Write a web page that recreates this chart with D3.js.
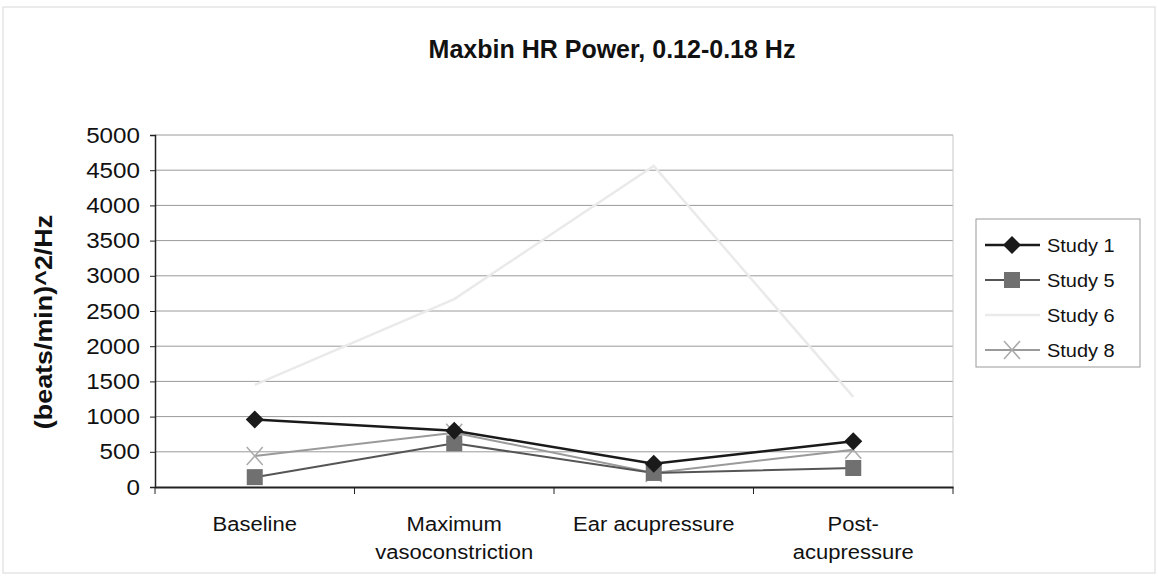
<!DOCTYPE html>
<html>
<head>
<meta charset="utf-8">
<script src="https://cdn.jsdelivr.net/npm/d3@7"></script>
<style>
body { margin: 0; background: #fff; }
svg { font-family: Arial, "Liberation Sans", sans-serif; }
</style>
</head>
<body>
<div id="chart"></div>
<script>
var categories = [["Baseline"], ["Maximum", "vasoconstriction"], ["Ear acupressure"], ["Post-", "acupressure"]];
var seriesNames = ["Study 1", "Study 5", "Study 6", "Study 8"];
var study1 = [960, 800, 330, 650];
var study5 = [140, 620, 200, 270];
var study6 = [1450, 2670, 4560, 1280];
var study8 = [440, 770, 200, 530];
var yTicks = [0, 500, 1000, 1500, 2000, 2500, 3000, 3500, 4000, 4500, 5000];

var width = 1158, height = 576;
var margin = {left: 155, right: 205, top: 135, bottom: 89};

var series = [
	{name: seriesNames[0], values: study1, line: "#1a1a1a", mark: "diamond", fill: "#1a1a1a", w: 2.5},
	{name: seriesNames[1], values: study5, line: "#555", mark: "square", fill: "#707070", w: 2},
	{name: seriesNames[2], values: study6, line: "#eaeaea", mark: "none", fill: "#eaeaea", w: 2.5},
	{name: seriesNames[3], values: study8, line: "#9a9a9a", mark: "x", fill: "#aaa", w: 2}
];

var svg = d3.select("#chart").append("svg")
	.attr("width", width)
	.attr("height", height);

svg.append("rect")
	.attr("x", 3).attr("y", 7)
	.attr("width", width - 6).attr("height", height - 10)
	.attr("fill", "none")
	.attr("stroke", "#d8d8d8");

var x = d3.scaleBand()
	.domain(d3.range(categories.length))
	.range([margin.left, width - margin.right]);

var y = d3.scaleLinear()
	.domain([0, 5000])
	.range([height - margin.bottom, margin.top]);

// widen a text element a little around its anchor
function wide(sel, k) {
	sel.each(function() {
		var w = this.getComputedTextLength();
		d3.select(this).attr("textLength", w * k).attr("lengthAdjust", "spacingAndGlyphs");
	});
}

// grid
svg.append("g").selectAll("line")
	.data(yTicks.slice(1))
	.enter().append("line")
	.attr("x1", margin.left).attr("x2", width - margin.right)
	.attr("y1", function(d) { return y(d); })
	.attr("y2", function(d) { return y(d); })
	.attr("stroke", "#9a9a9a")
	.attr("stroke-width", 1);

svg.append("line")
	.attr("x1", width - margin.right).attr("x2", width - margin.right)
	.attr("y1", margin.top).attr("y2", height - margin.bottom)
	.attr("stroke", "#c8c8c8");

var yAxis = svg.append("g")
	.attr("transform", "translate(" + margin.left + ",0)")
	.call(d3.axisLeft(y).tickValues(yTicks).tickFormat(d3.format("d")).tickSize(5).tickPadding(10));
yAxis.select(".domain").attr("stroke", "#222").attr("stroke-width", 1.5);
yAxis.selectAll(".tick line").attr("stroke", "#222");
yAxis.selectAll("text").attr("font-size", 22).attr("fill", "#111").style("font-family", "Arial, 'Liberation Sans', sans-serif");
wide(yAxis.selectAll("text"), 1.1);

var xAxis = svg.append("g")
	.attr("transform", "translate(0," + (height - margin.bottom) + ")")
	.call(d3.axisBottom(x).tickSize(0).tickFormat(""));
xAxis.select(".domain").attr("stroke", "#222").attr("stroke-width", 2);

svg.append("g").selectAll("line")
	.data(d3.range(categories.length + 1))
	.enter().append("line")
	.attr("x1", function(d) { return margin.left + d * x.step(); })
	.attr("x2", function(d) { return margin.left + d * x.step(); })
	.attr("y1", height - margin.bottom)
	.attr("y2", height - margin.bottom + 7)
	.attr("stroke", "#222");

// x labels, one text per line
var xl = svg.append("g");
categories.forEach(function(lines, i) {
	lines.forEach(function(s, k) {
		xl.append("text")
			.attr("x", x(i) + x.bandwidth() / 2)
			.attr("y", 531 + k * 28)
			.attr("text-anchor", "middle")
			.attr("font-size", 20)
			.attr("fill", "#111")
			.text(s);
	});
});
wide(xl.selectAll("text"), 1.1);

// title and y label
svg.append("text")
	.attr("x", 612).attr("y", 58)
	.attr("text-anchor", "middle")
	.attr("font-size", 25)
	.attr("font-weight", "bold")
	.attr("fill", "#111")
	.text("Maxbin HR Power, 0.12-0.18 Hz");

var ylab = svg.append("text")
	.attr("transform", "translate(52,322) rotate(-90)")
	.attr("text-anchor", "middle")
	.attr("font-size", 24)
	.attr("font-weight", "bold")
	.attr("fill", "#111")
	.text("(beats/min)^2/Hz");
wide(ylab, 1.12);

var line = d3.line()
	.x(function(d, i) { return x(i) + x.bandwidth() / 2; })
	.y(function(d) { return y(d); });

function drawMark(g, type, cx, cy, s) {
	if (type === "diamond") {
		g.append("path")
			.attr("d", "M" + cx + "," + (cy - 9) + "L" + (cx + 9) + "," + cy + "L" + cx + "," + (cy + 9) + "L" + (cx - 9) + "," + cy + "Z")
			.attr("fill", s.fill);
	} else if (type === "square") {
		g.append("rect")
			.attr("x", cx - 8).attr("y", cy - 8)
			.attr("width", 16).attr("height", 16)
			.attr("fill", s.fill);
	} else if (type === "x") {
		g.append("path")
			.attr("d", "M" + (cx - 8) + "," + (cy - 9) + "L" + (cx + 8) + "," + (cy + 9) + "M" + (cx + 8) + "," + (cy - 9) + "L" + (cx - 8) + "," + (cy + 9))
			.attr("stroke", s.fill)
			.attr("stroke-width", 1.5);
	}
}

// draw back to front: study 6, 8, 5, 1
[2, 3, 1, 0].forEach(function(k) {
	var s = series[k];
	var g = svg.append("g");
	g.append("path")
		.datum(s.values)
		.attr("d", line)
		.attr("fill", "none")
		.attr("stroke", s.line)
		.attr("stroke-width", s.w);
	s.values.forEach(function(v, i) {
		drawMark(g, s.mark, x(i) + x.bandwidth() / 2, y(v), s);
	});
});

// legend
var legend = svg.append("g");
legend.append("rect")
	.attr("x", 976).attr("y", 219)
	.attr("width", 164).attr("height", 148)
	.attr("fill", "#fff")
	.attr("stroke", "#999");

series.forEach(function(s, i) {
	var ly = 245 + i * 35;
	var g = legend.append("g");
	g.append("line")
		.attr("x1", 985).attr("x2", 1040)
		.attr("y1", ly).attr("y2", ly)
		.attr("stroke", s.line)
		.attr("stroke-width", s.w);
	drawMark(g, s.mark, 1012, ly, s);
	var t = g.append("text")
		.attr("x", 1047).attr("y", ly + 7)
		.attr("font-size", 19)
		.attr("fill", "#111")
		.text(s.name);
	wide(t, 1.05);
});
</script>
</body>
</html>
